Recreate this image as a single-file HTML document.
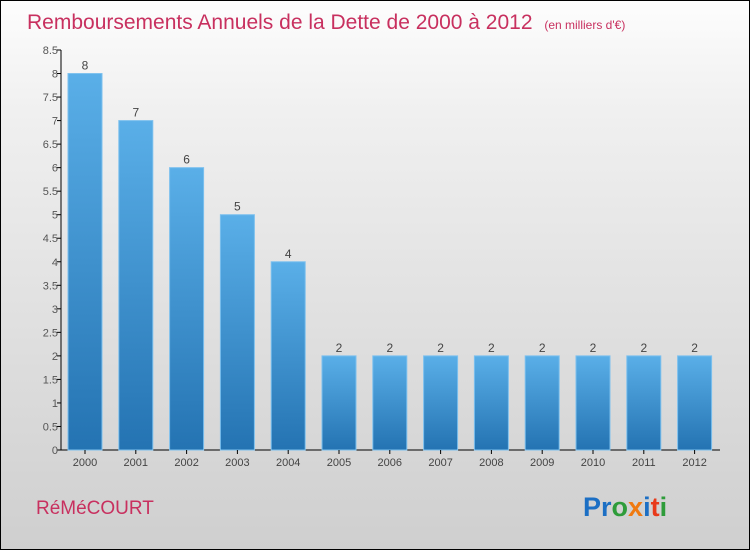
<!DOCTYPE html>
<html><head><meta charset="utf-8"><style>
html,body{margin:0;padding:0}
body{width:750px;height:550px;overflow:hidden;font-family:"Liberation Sans",sans-serif}
#wrap{position:absolute;left:0;top:0;width:748px;height:548px;border:1px solid #000;background:linear-gradient(#fdfdfd,#f0f0f0 20%,#d9d9d9 75%,#cfcfcf)}
</style></head><body>
<div id="wrap"></div>
<svg id="c" width="750" height="550" style="position:absolute;left:0;top:0">
<defs><linearGradient id="bg" x1="0" y1="0" x2="0" y2="1"><stop offset="0" stop-color="#5aafe8"/><stop offset="1" stop-color="#2473b2"/></linearGradient></defs>
<text x="27" y="29" font-size="21" fill="#c8305f">Remboursements Annuels de la Dette de 2000 à 2012 <tspan font-size="12" dx="6">(en milliers d'€)</tspan></text>
<text x="36" y="514" font-size="19" fill="#c8305f">RéMéCOURT</text>
<text x="583" y="516" font-size="27" font-weight="bold"><tspan fill="#1c6fc4">Pr</tspan><tspan fill="#2e9c3a">o</tspan><tspan fill="#f07a10">x</tspan><tspan fill="#1c6fc4">i</tspan><tspan fill="#e83a1a">t</tspan><tspan fill="#2e9c3a">i</tspan></text>
<g id="plot"></g>
</svg>
<script>
const categories=["2000","2001","2002","2003","2004","2005","2006","2007","2008","2009","2010","2011","2012"];
const values=[8,7,6,5,4,2,2,2,2,2,2,2,2];
const tickLabels=["0","0.5","1","1.5","2","2.5","3","3.5","4","4.5","5","5.5","6","6.5","7","7.5","8","8.5"];
const ns="http://www.w3.org/2000/svg";
const g=document.getElementById('plot');
const y0=450,yTop=50,ymax=8.5,x0=61;
const y=v=>y0-(v/ymax)*(y0-yTop);
const xc=i=>85+i*50.8;
function mk(t,a){const e=document.createElementNS(ns,t);for(const k in a)e.setAttribute(k,a[k]);g.appendChild(e);return e;}
let e=mk('line',{x1:x0,y1:yTop,x2:x0,y2:y0,stroke:'#000'});


e=mk('line',{x1:x0,y1:y0,x2:720,y2:y0,stroke:'#000'});


tickLabels.forEach(t=>{const v=parseFloat(t);const yy=y(v);
 mk('line',{x1:x0-4,y1:yy,x2:x0,y2:yy,stroke:'#000'});
 const tx=mk('text',{x:x0-3,y:yy+4,'font-size':11,fill:'#555','text-anchor':'end'});tx.textContent=t;
 
 
});
categories.forEach((c,i)=>{const cx=xc(i),v=values[i];
 const r=mk('rect',{x:cx-17,y:y(v),width:34,height:y0-y(v),fill:'url(#bg)',stroke:'#7cc0ee','stroke-width':1});
 
 
 const l=mk('text',{x:cx,y:y(v)-4,'font-size':12,fill:'#444','text-anchor':'middle'});l.textContent=v;
 
 
 mk('line',{x1:cx,y1:y0,x2:cx,y2:y0+4,stroke:'#000'});
 const t=mk('text',{x:cx,y:y0+16,'font-size':11,fill:'#444','text-anchor':'middle'});t.textContent=c;
 
 
});
</script>
</body></html>
